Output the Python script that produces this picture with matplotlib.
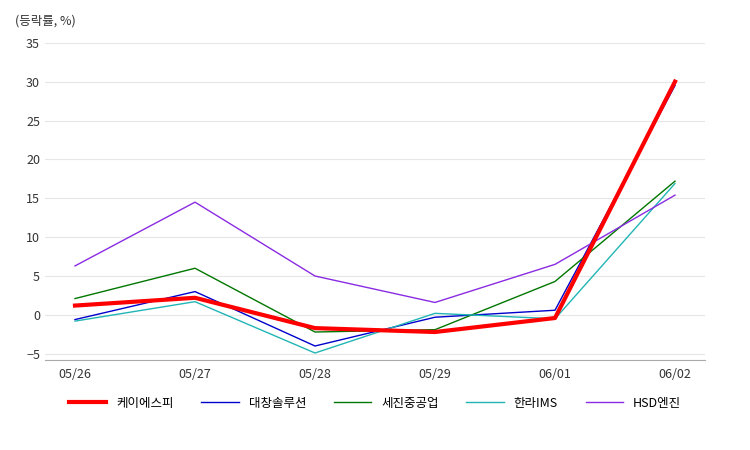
import matplotlib.pyplot as plt

plt.rcParams['font.family'] = 'Noto Sans CJK KR'

dates = ['05/26', '05/27', '05/28', '05/29', '06/01', '06/02']
kes = [1.2, 2.2, -1.7, -2.2, -0.4, 30.0]
daechang = [-0.6, 3.0, -4.0, -0.3, 0.6, 29.5]
sejin = [2.1, 6.0, -2.2, -1.9, 4.3, 17.2]
halla = [-0.8, 1.7, -4.9, 0.2, -0.5, 16.9]
hsd = [6.3, 14.5, 5.0, 1.6, 6.5, 15.4]

fig = plt.figure(figsize=(7.5, 4.5), dpi=100)
ax = fig.add_axes([0.06, 0.2, 0.88, 0.705])
x = range(len(dates))
ax.plot(x, kes, color='#ff0000', lw=3, label='케이에스피', zorder=5)
ax.plot(x, daechang, color='#0000cc', lw=1, label='대창솔루션')
ax.plot(x, sejin, color='#007700', lw=1, label='세진중공업')
ax.plot(x, halla, color='#22b5b5', lw=1, label='한라IMS')
ax.plot(x, hsd, color='#8a2be2', lw=1, label='HSD엔진')

ax.set_xlim(-0.25, 5.25)
ax.set_ylim(-5.8, 35)
ax.set_yticks(range(-5, 36, 5))
ax.set_xticks(list(x))
ax.set_xticklabels(dates)
ax.grid(axis='y', color='#e6e6e6', lw=0.8)
for s in ['top', 'right', 'left']:
    ax.spines[s].set_visible(False)
ax.spines['bottom'].set_color('#aaaaaa')
ax.tick_params(length=0, labelsize=9, colors='#333333')
ax.tick_params(axis='x', pad=6)
fig.text(0.02, 0.945, '(등락률, %)', fontsize=9, color='#333333')
ax.legend(loc='upper center', bbox_to_anchor=(0.5, -0.08), ncol=5, frameon=False,
          fontsize=9, handlelength=3, columnspacing=2.2)
fig.savefig('out.png')
